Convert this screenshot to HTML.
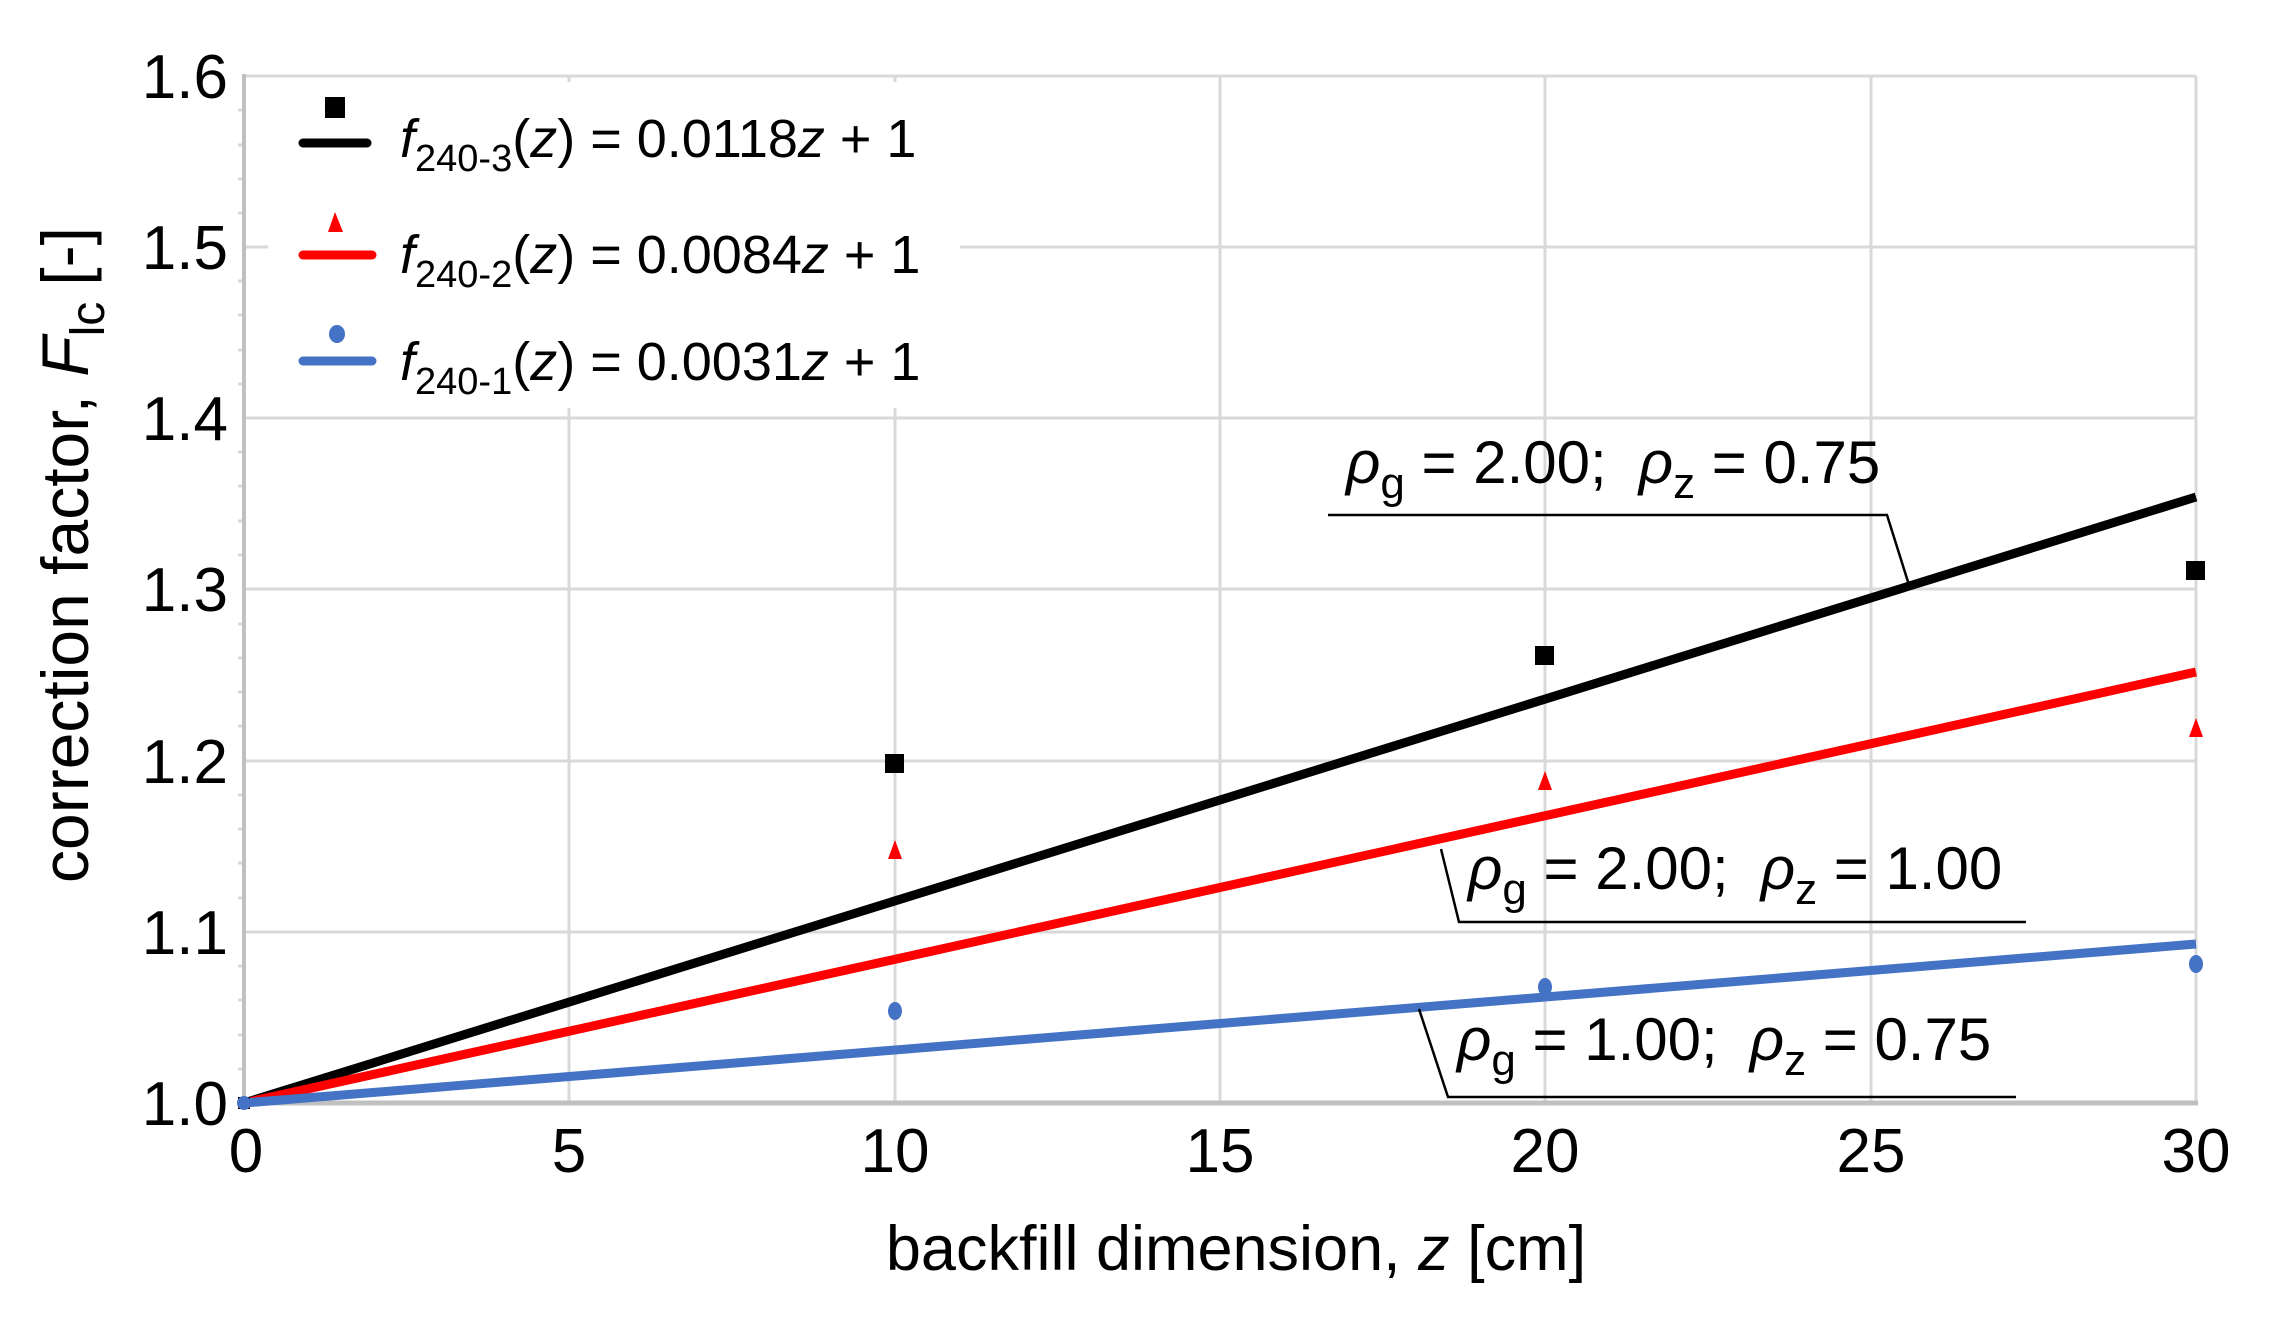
<!DOCTYPE html><html><head><style>body{margin:0;background:#fff}svg{display:block}text{font-family:"Liberation Sans",Arial,sans-serif;fill:#000}</style></head><body>
<svg width="2282" height="1319" viewBox="0 0 2282 1319">
<g stroke="#d9d9d9" stroke-width="3">
<line x1="244" y1="76" x2="2196" y2="76"/><line x1="244" y1="247" x2="2196" y2="247"/><line x1="244" y1="418" x2="2196" y2="418"/><line x1="244" y1="589" x2="2196" y2="589"/><line x1="244" y1="761" x2="2196" y2="761"/><line x1="244" y1="932" x2="2196" y2="932"/>
<line x1="569" y1="76" x2="569" y2="1103"/><line x1="895" y1="76" x2="895" y2="1103"/><line x1="1220" y1="76" x2="1220" y2="1103"/><line x1="1545" y1="76" x2="1545" y2="1103"/><line x1="1871" y1="76" x2="1871" y2="1103"/><line x1="2196" y1="76" x2="2196" y2="1103"/>
</g>
<g stroke="#d9d9d9" stroke-width="3">
<line x1="238" y1="110" x2="244" y2="110"/><line x1="238" y1="145" x2="244" y2="145"/><line x1="238" y1="179" x2="244" y2="179"/><line x1="238" y1="213" x2="244" y2="213"/>
<line x1="238" y1="281" x2="244" y2="281"/><line x1="238" y1="315" x2="244" y2="315"/><line x1="238" y1="350" x2="244" y2="350"/><line x1="238" y1="384" x2="244" y2="384"/>
<line x1="238" y1="452" x2="244" y2="452"/><line x1="238" y1="486" x2="244" y2="486"/><line x1="238" y1="521" x2="244" y2="521"/><line x1="238" y1="555" x2="244" y2="555"/>
<line x1="238" y1="624" x2="244" y2="624"/><line x1="238" y1="658" x2="244" y2="658"/><line x1="238" y1="692" x2="244" y2="692"/><line x1="238" y1="726" x2="244" y2="726"/>
<line x1="238" y1="795" x2="244" y2="795"/><line x1="238" y1="829" x2="244" y2="829"/><line x1="238" y1="863" x2="244" y2="863"/><line x1="238" y1="898" x2="244" y2="898"/>
<line x1="238" y1="966" x2="244" y2="966"/><line x1="238" y1="1000" x2="244" y2="1000"/><line x1="238" y1="1035" x2="244" y2="1035"/><line x1="238" y1="1069" x2="244" y2="1069"/>
</g>
<rect x="268" y="82" width="692" height="326" fill="#fff"/>
<line x1="244" y1="74" x2="244" y2="1105" stroke="#c0c0c0" stroke-width="4"/>
<line x1="242" y1="1103" x2="2198" y2="1103" stroke="#c0c0c0" stroke-width="5"/>
<line x1="244" y1="1103" x2="2196" y2="497" stroke="#000" stroke-width="9"/>
<line x1="244" y1="1103" x2="2196" y2="672" stroke="#f00" stroke-width="9"/>
<line x1="244" y1="1103" x2="2196" y2="944" stroke="#4472c4" stroke-width="9"/>
<rect x="238" y="1097" width="12" height="12" fill="#000"/>
<path d="M244 1096 L238 1108 L250 1108Z" fill="#f00"/>
<circle cx="244" cy="1103" r="7" fill="#4472c4"/>
<g fill="#000"><rect x="885" y="754" width="19" height="19"/><rect x="1535" y="646" width="19" height="19"/><rect x="2186" y="561" width="19" height="19"/></g>
<g fill="#f00"><path d="M895 840 L888 859 L902 859Z"/><path d="M1545 771 L1538 790 L1552 790Z"/><path d="M2196 718 L2189 737 L2203 737Z"/></g>
<g fill="#4472c4"><ellipse cx="895" cy="1011" rx="7" ry="9"/><ellipse cx="1545" cy="987" rx="7" ry="9"/><ellipse cx="2196" cy="964" rx="7" ry="9"/></g>
<rect x="325" y="97" width="20" height="21" fill="#000"/>
<line x1="303" y1="143" x2="367" y2="143" stroke="#000" stroke-width="9" stroke-linecap="round"/>
<path d="M335 212 L328 232 L343 232Z" fill="#f00"/>
<line x1="303" y1="255" x2="372" y2="255" stroke="#f00" stroke-width="9" stroke-linecap="round"/>
<ellipse cx="337" cy="334" rx="8" ry="9" fill="#4472c4"/>
<line x1="303" y1="361" x2="372" y2="361" stroke="#4472c4" stroke-width="9" stroke-linecap="round"/>
<g font-size="54">
<text x="400" y="157"><tspan font-style="italic">f</tspan><tspan font-size="38" dy="14">240-3</tspan><tspan dy="-14">(</tspan><tspan font-style="italic">z</tspan>) = 0.0118<tspan font-style="italic">z</tspan> + 1</text>
<text x="400" y="273"><tspan font-style="italic">f</tspan><tspan font-size="38" dy="14">240-2</tspan><tspan dy="-14">(</tspan><tspan font-style="italic">z</tspan>) = 0.0084<tspan font-style="italic">z</tspan> + 1</text>
<text x="400" y="380"><tspan font-style="italic">f</tspan><tspan font-size="38" dy="14">240-1</tspan><tspan dy="-14">(</tspan><tspan font-style="italic">z</tspan>) = 0.0031<tspan font-style="italic">z</tspan> + 1</text>
</g>
<g font-size="62" text-anchor="end">
<text x="228" y="98">1.6</text><text x="228" y="269">1.5</text><text x="228" y="440">1.4</text><text x="228" y="611">1.3</text><text x="228" y="783">1.2</text><text x="228" y="954">1.1</text><text x="228" y="1125">1.0</text>
</g>
<g font-size="62" text-anchor="middle">
<text x="246" y="1172">0</text><text x="569" y="1172">5</text><text x="895" y="1172">10</text><text x="1220" y="1172">15</text><text x="1545" y="1172">20</text><text x="1871" y="1172">25</text><text x="2196" y="1172">30</text>
</g>
<text x="1236" y="1270" font-size="63" text-anchor="middle">backfill dimension, <tspan font-style="italic">z</tspan> [cm]</text>
<text transform="translate(88,555) rotate(-90)" font-size="66" text-anchor="middle">correction factor, <tspan font-style="italic">F</tspan><tspan font-size="48" dy="16">lc</tspan><tspan dy="-16" dx="16">[-]</tspan></text>
<g font-size="60">
<text x="1346" y="483"><tspan font-style="italic">ρ</tspan><tspan font-size="44" dy="15">g</tspan><tspan dy="-15"> = 2.00;</tspan><tspan font-style="italic" dx="32">ρ</tspan><tspan font-size="44" dy="15">z</tspan><tspan dy="-15"> = 0.75</tspan></text>
<text x="1468" y="889"><tspan font-style="italic">ρ</tspan><tspan font-size="44" dy="15">g</tspan><tspan dy="-15"> = 2.00;</tspan><tspan font-style="italic" dx="32">ρ</tspan><tspan font-size="44" dy="15">z</tspan><tspan dy="-15"> = 1.00</tspan></text>
<text x="1457" y="1060"><tspan font-style="italic">ρ</tspan><tspan font-size="44" dy="15">g</tspan><tspan dy="-15"> = 1.00;</tspan><tspan font-style="italic" dx="32">ρ</tspan><tspan font-size="44" dy="15">z</tspan><tspan dy="-15"> = 0.75</tspan></text>
</g>
<g stroke="#000" fill="none" stroke-width="2.5">
<polyline points="1328,515 1887,515 1909,585"/>
<polyline points="1441,849 1459,922 2026,922"/>
<polyline points="1419,1009 1448,1097 2016,1097"/>
</g>
</svg></body></html>
